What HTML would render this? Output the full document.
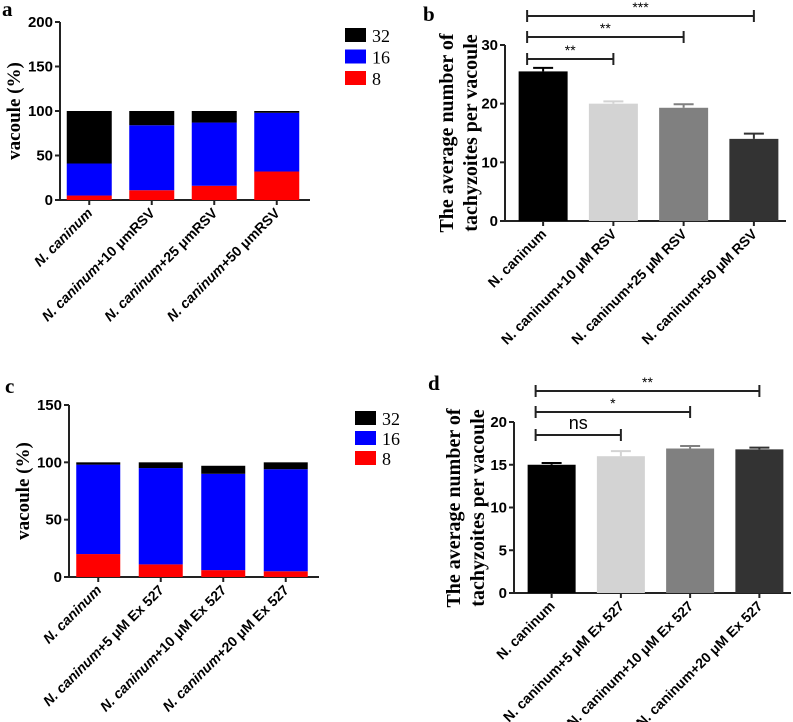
<!DOCTYPE html>
<html><head><meta charset="utf-8"><style>
html,body{margin:0;padding:0;background:#fff;width:793px;height:722px;overflow:hidden}
svg{display:block}
text{font-family:"Liberation Sans",sans-serif}
.tick{font-weight:bold;font-size:15px}
.xl{font-weight:bold;font-size:14px}
.ser{font-family:"Liberation Serif",serif;font-weight:bold}
</style></head><body>
<svg id="fig" width="793" height="722" viewBox="0 0 793 722"></svg>
<script>
// Panel a data
const aCats=["N. caninum","N. caninum+10 \u03bcmRSV","N. caninum+25 \u03bcmRSV","N. caninum+50 \u03bcmRSV"];
const a8=[5,11,16,32];
const a16=[36,73,71,66];
const a32=[59,16,13,2];
const aTicks=[0,50,100,150,200];
// Panel b data
const bCats=["N. caninum","N. caninum+10 \u03bcM RSV","N. caninum+25 \u03bcM RSV","N. caninum+50 \u03bcM RSV"];
const bMeans=[25.5,20,19.3,14];
const bErr=[0.6,0.4,0.6,0.9];
const bTicks=[0,10,20,30];
const bSig=["**","**","***"];
// Panel c data
const cCats=["N. caninum","N. caninum+5 \u03bcM Ex 527","N. caninum+10 \u03bcM Ex 527","N. caninum+20 \u03bcM Ex 527"];
const c8=[20,11,6,5];
const c16=[78,84,84,89];
const c32=[2,5,7,6];
const cTicks=[0,50,100,150];
// Panel d data
const dCats=cCats;
const dMeans=[15,16,16.9,16.8];
const dErr=[0.2,0.6,0.3,0.2];
const dTicks=[0,5,10,15,20];
const dSig=["ns","*","**"];

const NS="http://www.w3.org/2000/svg";
const svg=document.getElementById('fig');
function el(tag,attrs,parent,txt){const e=document.createElementNS(NS,tag);for(const k in attrs)e.setAttribute(k,attrs[k]);if(txt!==undefined)e.textContent=txt;(parent||svg).appendChild(e);return e;}

function axes(g,ax,x0,x1,y0,ymax,ticks,cats,centers){
  const sy=v=>y0-(v/ymax)*(y0-ax.ytop);
  const ya=el('line',{x1:x0,y1:sy(ymax),x2:x0,y2:y0,stroke:'#222','stroke-width':2},g);
  
  const xa=el('line',{x1:x0-1,y1:y0,x2:x1,y2:y0,stroke:'#222','stroke-width':2},g);
  
  ticks.forEach(t=>{
    el('line',{x1:x0-5,y1:sy(t),x2:x0,y2:sy(t),stroke:'#222','stroke-width':2},g);
    const tl=el('text',{x:x0-7,y:sy(t)+5,'text-anchor':'end',class:'tick'},g,t);
    
  });
  centers.forEach((cx,i)=>{
    el('line',{x1:cx,y1:y0,x2:cx,y2:y0+5,stroke:'#222','stroke-width':2},g);
    const t=el('text',{x:cx+4,y:y0+14,'text-anchor':'end',class:'xl',transform:`rotate(-45 ${cx+4} ${y0+14})`},g);
    const parts=cats[i].split('N. caninum');
    el('tspan',{'font-style':ax.italic?'italic':'normal'},t,'N. caninum');
    if(parts[1])el('tspan',{},t,parts[1]);
    
  });
  return sy;
}

function stacked(name,x0,x1,y0,ytop,ymax,ticks,cats,s8,s16,s32,bw,legend,italic){
  const g=el('g',{});
  const n=cats.length,step=(x1-x0)/n;
  const centers=cats.map((c,i)=>x0+step*(i+0.5)-2);
  const sy=axes(g,{ytop,italic},x0,x1,y0,ymax,ticks,cats,centers);
  const series=[[s8,'#ff0000','8'],[s16,'#0000ff','16'],[s32,'#000000','32']];
  centers.forEach((cx,i)=>{
    let base=0;
    series.forEach(([arr,col,lab])=>{
      const r=el('rect',{x:cx-bw/2,y:sy(base+arr[i]),width:bw,height:sy(base)-sy(base+arr[i]),fill:col},g);
      
      base+=arr[i];
    });
  });
  const lg=el('g',{},g);
  [['32','#000'],['16','#0000ff'],['8','#ff0000']].forEach(([l,c],k)=>{
    const yy=legend.y+k*legend.dy;
    const e=el('g',{},lg);
    el('rect',{x:legend.x,y:yy,width:21,height:14,fill:c},e);
    el('text',{x:legend.x+27,y:yy+14,style:'font-family:Liberation Serif,serif;font-size:18px'},e,l);
  });
}

function meanbars(name,x0,x1,y0,ytop,ymax,ticks,cats,means,errs,bw,sig,sigY){
  const g=el('g',{});
  const n=cats.length,step=(x1-x0)/n;
  const centers=cats.map((c,i)=>x0+step*(i+0.5)+3);
  const sy=axes(g,{ytop,italic:false},x0,x1,y0,ymax,ticks,cats,centers);
  const cols=['#000000','#d3d3d3','#808080','#333333'];
  centers.forEach((cx,i)=>{
    const eb=el('g',{},g);
    el('line',{x1:cx,y1:sy(means[i]),x2:cx,y2:sy(means[i]+errs[i]),stroke:cols[i],'stroke-width':2},eb);
    el('line',{x1:cx-10,y1:sy(means[i]+errs[i]),x2:cx+10,y2:sy(means[i]+errs[i]),stroke:cols[i],'stroke-width':2},eb);
    const r=el('rect',{x:cx-bw/2,y:sy(means[i]),width:bw,height:y0-sy(means[i]),fill:cols[i]},g);
    
  });
  sig.forEach((s,k)=>{
    const yy=sigY[k],xb=centers[k+1];
    const b=el('g',{},g);
    el('line',{x1:centers[0]-16,y1:yy,x2:xb,y2:yy,stroke:'#222','stroke-width':2},b);
    el('line',{x1:centers[0]-16,y1:yy-6,x2:centers[0]-16,y2:yy+6,stroke:'#222','stroke-width':2},b);
    el('line',{x1:xb,y1:yy-6,x2:xb,y2:yy+6,stroke:'#222','stroke-width':2},b);
    el('text',{x:(centers[0]-16+xb)/2,y:s=='ns'?yy-6:yy-4,'text-anchor':'middle',style:s=='ns'?'font-size:18px':'font-size:14px'},b,s);
  });
}

stacked('chart-a',60,310,200,22,200,aTicks,aCats,a8,a16,a32,45,{x:345,y:28,dy:21.5},true);
stacked('chart-c',69,319,577,405,150,cTicks,cCats,c8,c16,c32,44,{x:355,y:411,dy:20},true);
meanbars('chart-b',505,786,221,45,30,bTicks,bCats,bMeans,bErr,49,bSig,[59,37,16]);
meanbars('chart-d',514,791,593,422,20,dTicks,dCats,dMeans,dErr,48,dSig,[435,412,391]);

function label(x,y,t,name,size,rot){
  const e=el('text',{x,y,class:'ser',style:`font-size:${size}px`,'text-anchor':rot?'middle':'start',transform:rot?`rotate(-90 ${x} ${y})`:''},svg,t);
  
}
label(2,16,'a','panel-label-a',21);
label(423,21,'b','panel-label-b',21);
label(5,393,'c','panel-label-c',21);
label(428,390,'d','panel-label-d',21);
label(20,111,'vacoule (%)','y-axis-title-a',19,true);
label(29,491,'vacoule (%)','y-axis-title-c',19,true);
label(453,133,'The average number of','y-axis-title-b-line1',20,true);
label(477,133,'tachyzoites per vacoule','y-axis-title-b-line2',20,true);
label(460,508,'The average number of','y-axis-title-d-line1',20,true);
label(484,508,'tachyzoites per vacoule','y-axis-title-d-line2',20,true);
</script>
</body></html>
